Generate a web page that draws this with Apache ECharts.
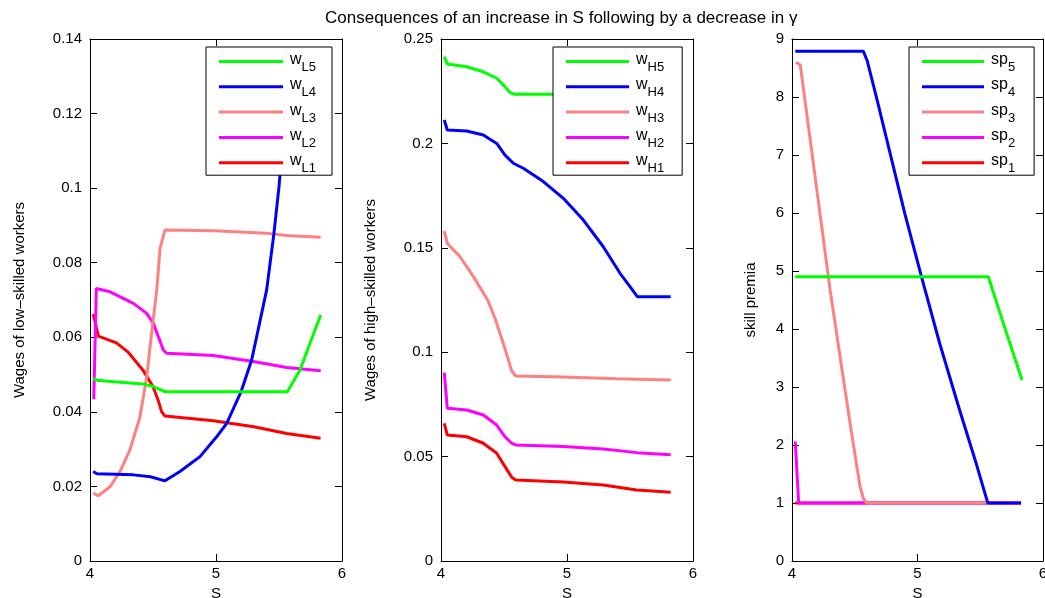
<!DOCTYPE html>
<html>
<head>
<meta charset="utf-8">
<script src="https://cdn.jsdelivr.net/npm/echarts@6/dist/echarts.min.js"></script>
<style>html,body{margin:0;padding:0;background:#fff}#c{width:1045px;height:598px}</style>
</head>
<body>
<div id="c"></div>
<script>
// ---------- Data ----------
const titleText = 'Consequences of an increase in S following by a decrease in γ';
const xTicks = [4, 5, 6];
const yLabels = ['Wages of low–skilled workers', 'Wages of high–skilled workers', 'skill premia'];
const yMax = [0.14, 0.25, 9];
const yStep = [0.02, 0.05, 1];

// Panel 1: wages of low-skilled workers
const S_wL1 = [4.026, 4.066, 4.21, 4.30, 4.42, 4.50, 4.54, 4.569, 4.595, 4.98, 5.30, 5.56, 5.83];
const wL1   = [0.0662, 0.0603, 0.0585, 0.0561, 0.0512, 0.0468, 0.0432, 0.0400, 0.0389, 0.0376, 0.0360, 0.0342, 0.0329];
const S_wL2 = [4.03, 4.05, 4.159, 4.212, 4.344, 4.45, 4.503, 4.542, 4.582, 4.608, 4.979, 5.296, 5.561, 5.831];
const wL2   = [0.0434, 0.0731, 0.0722, 0.0713, 0.0691, 0.0664, 0.0637, 0.0602, 0.0566, 0.0557, 0.0551, 0.0535, 0.0519, 0.0510];
const S_wL3 = [4.025, 4.066, 4.159, 4.238, 4.317, 4.397, 4.450, 4.489, 4.53, 4.556, 4.595, 4.979, 5.402, 5.587, 5.831];
const wL3   = [0.0182, 0.0175, 0.0199, 0.0240, 0.0298, 0.0387, 0.0494, 0.0611, 0.0727, 0.0839, 0.0888, 0.0886, 0.0879, 0.0872, 0.0868];
const S_wL4 = [4.025, 4.055, 4.344, 4.48, 4.595, 4.714, 4.873, 5.005, 5.085, 5.199, 5.283, 5.402, 5.46, 5.50, 5.53, 5.558, 5.823];
const wL4   = [0.0240, 0.0234, 0.0231, 0.0226, 0.0215, 0.0240, 0.0280, 0.0333, 0.0369, 0.0454, 0.0539, 0.0727, 0.0879, 0.1004, 0.112, 0.1266, 0.1266];
const S_wL5 = [4.025, 4.055, 4.19, 4.42, 4.50, 4.58, 4.60, 5.566, 5.667, 5.746, 5.831];
const wL5   = [0.0490, 0.0485, 0.0481, 0.0475, 0.0468, 0.0456, 0.0454, 0.0454, 0.0512, 0.0584, 0.0660];

// Panel 2: wages of high-skilled workers
const S_wH1 = [4.026, 4.050, 4.204, 4.336, 4.442, 4.508, 4.561, 4.593, 4.971, 5.288, 5.553, 5.823];
const wH1   = [0.0659, 0.0603, 0.0595, 0.0564, 0.0516, 0.0452, 0.0401, 0.0388, 0.0378, 0.0364, 0.0340, 0.0329];
const S_wH2 = [4.026, 4.050, 4.204, 4.336, 4.442, 4.508, 4.561, 4.593, 4.971, 5.288, 5.553, 5.823];
const wH2   = [0.0902, 0.0731, 0.0723, 0.0699, 0.0651, 0.0595, 0.0564, 0.0556, 0.0548, 0.0536, 0.0519, 0.0509];
const S_wH3 = [4.026, 4.050, 4.151, 4.257, 4.37, 4.43, 4.49, 4.535, 4.561, 4.593, 4.971, 5.394, 5.823];
const wH3   = [0.1580, 0.1522, 0.1457, 0.1362, 0.1250, 0.1160, 0.1050, 0.0963, 0.0910, 0.0886, 0.0881, 0.0873, 0.0867];
const S_wH4 = [4.026, 4.050, 4.204, 4.336, 4.442, 4.508, 4.574, 4.653, 4.812, 4.971, 5.130, 5.288, 5.421, 5.500, 5.558, 5.823];
const wH4   = [0.2112, 0.2064, 0.2059, 0.2040, 0.2000, 0.1944, 0.1905, 0.1881, 0.1817, 0.1737, 0.1633, 0.1505, 0.1378, 0.1314, 0.1266, 0.1266];
const S_wH5 = [4.026, 4.050, 4.204, 4.336, 4.442, 4.508, 4.548, 4.587, 4.878, 5.566, 5.667, 5.746, 5.83];
const wH5   = [0.2415, 0.2380, 0.2367, 0.2343, 0.2312, 0.2272, 0.2243, 0.2235, 0.2235, 0.2230, 0.215, 0.213, 0.206];

// Panel 3: skill premia
const S_sp1 = [4.026, 5.825];
const sp1   = [1, 1];
const S_sp2 = [4.026, 4.053, 5.825];
const sp2   = [2.06, 1.0, 1.0];
const S_sp3 = [4.032, 4.066, 4.304, 4.383, 4.463, 4.542, 4.568, 4.595, 5.825];
const sp3   = [8.60, 8.55, 4.67, 3.52, 2.37, 1.28, 1.08, 1.0, 1.0];
const S_sp4 = [4.026, 4.568, 4.60, 4.678, 4.775, 4.899, 5.032, 5.177, 5.336, 5.468, 5.560, 5.825];
const sp4   = [8.79, 8.79, 8.62, 7.95, 7.09, 5.99, 4.90, 3.75, 2.60, 1.68, 1.0, 1.0];
const S_sp5 = [4.026, 5.565, 5.60, 5.706, 5.833];
const sp5   = [4.90, 4.90, 4.66, 3.95, 3.12];

const colors = {1: '#ff0000', 2: '#ff00ff', 3: '#ff8080', 4: '#0000ff', 5: '#00ff00'};
// ---------- Build ----------
const FONT = "'Liberation Sans', Arial, Helvetica, sans-serif";
const zip = (xs, ys) => xs.map((x, i) => [x, ys[i]]);

const panels = [
  {prefix: 'wL', xs: [S_wL1, S_wL2, S_wL3, S_wL4, S_wL5], ys: [wL1, wL2, wL3, wL4, wL5]},
  {prefix: 'wH', xs: [S_wH1, S_wH2, S_wH3, S_wH4, S_wH5], ys: [wH1, wH2, wH3, wH4, wH5]},
  {prefix: 'sp', xs: [S_sp1, S_sp2, S_sp3, S_sp4, S_sp5], ys: [sp1, sp2, sp3, sp4, sp5]}
];
const gridLeft = [90, 441, 792];
const gridW = [252, 252, 251];
const nameGaps = [63, 63, 34];
const legendLeft = [206, 553, 909];
const legendItemW = [64, 63, 62];
const legendPadR = [16, 18, 19];

const grid = [], xAxis = [], yAxis = [], series = [], legend = [];
panels.forEach((p, i) => {
  grid.push({left: gridLeft[i], top: 39, width: gridW[i], height: 522, show: false,
    containLabel: false, outerBoundsMode: 'none'});
  const tick = {show: true, inside: true, length: 7, lineStyle: {color: '#000', width: 1}};
  const line = {show: true, onZero: false, lineStyle: {color: '#000', width: 1}};
  xAxis.push({gridIndex: i, type: 'value', min: xTicks[0], max: xTicks[xTicks.length - 1], interval: 1,
    position: 'bottom', axisLine: line, axisTick: tick, splitLine: {show: false},
    axisLabel: {fontSize: 15, color: '#000', fontFamily: FONT, margin: 5},
    name: 'S', nameLocation: 'middle', nameGap: 20,
    nameTextStyle: {fontSize: 15, color: '#000', fontFamily: FONT}});
  xAxis.push({gridIndex: i, type: 'value', min: xTicks[0], max: xTicks[xTicks.length - 1], interval: 1,
    position: 'top', axisLine: line, axisTick: tick, splitLine: {show: false}, axisLabel: {show: false}});
  yAxis.push({gridIndex: i, type: 'value', min: 0, max: yMax[i], interval: yStep[i],
    position: 'left', axisLine: line, axisTick: tick, splitLine: {show: false},
    axisLabel: {fontSize: 15, color: '#000', fontFamily: FONT, margin: 8},
    name: yLabels[i], nameLocation: 'middle', nameGap: nameGaps[i],
    nameTextStyle: {fontSize: 15, color: '#000', fontFamily: FONT}});
  yAxis.push({gridIndex: i, type: 'value', min: 0, max: yMax[i], interval: yStep[i],
    position: 'right', axisLine: line, axisTick: tick, splitLine: {show: false}, axisLabel: {show: false}});
  const names = [];
  for (let k = 0; k < 5; k++) {
    const name = p.prefix + (k + 1);
    names.push(name);
    series.push({type: 'line', name: name, xAxisIndex: 2 * i, yAxisIndex: 2 * i,
      data: zip(p.xs[k], p.ys[k]), symbol: 'none', showSymbol: false, clip: true,
      lineStyle: {color: colors[k + 1], width: 3}, itemStyle: {color: colors[k + 1]}});
  }
  legend.push({orient: 'vertical', left: legendLeft[i], top: 47,
    data: names.slice().reverse(), selectedMode: false, icon: 'rect',
    backgroundColor: '#fff', borderColor: '#000', borderWidth: 1, borderRadius: 0,
    padding: [2, legendPadR[i], 0, 13], itemGap: 0.3, itemWidth: legendItemW[i], itemHeight: 3,
    formatter: function (n) {
      const main = n.startsWith('sp') ? 'sp' : 'w';
      return '{m|' + main + '}{s|' + n.slice(main.length) + '}';
    },
    textStyle: {color: '#000', fontFamily: FONT, padding: [0, 0, 0, 2],
      rich: {m: {fontSize: 16, lineHeight: 22, padding: [0, 0, 4, 0], color: '#000', fontFamily: FONT},
             s: {fontSize: 13, lineHeight: 22, padding: [12, 0, 0, 0], color: '#000', fontFamily: FONT}}}});
});

const chart = echarts.init(document.getElementById('c'), null, {renderer: 'canvas'});
chart.setOption({
  animation: false,
  backgroundColor: '#fff',
  title: {text: titleText, left: 325, top: 10, padding: 0,
    textStyle: {fontSize: 17, fontWeight: 'normal', color: '#000', fontFamily: FONT}},
  grid: grid, xAxis: xAxis, yAxis: yAxis, series: series, legend: legend
});
</script>
</body>
</html>
